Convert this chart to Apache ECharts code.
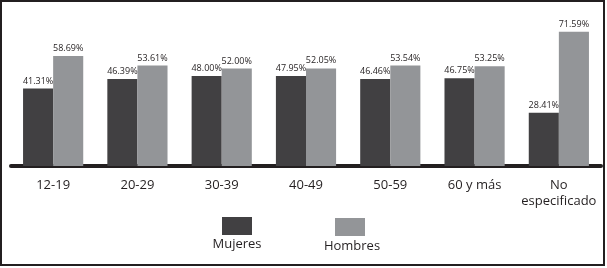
<!DOCTYPE html>
<html><head><meta charset="utf-8">
<script src="https://cdn.jsdelivr.net/npm/echarts@6/dist/echarts.min.js"></script>
<style>html,body{margin:0;padding:0;background:#fff}#c{width:607px;height:268px}</style>
</head><body><div id="c"></div>
<script>
const categories = ['12-19', '20-29', '30-39', '40-49', '50-59', '60 y más', 'No\nespecificado'];
const seriesNames = ['Mujeres', 'Hombres'];
const mujeres = [41.31, 46.39, 48.00, 47.95, 46.46, 46.75, 28.41];
const hombres = [58.69, 53.61, 52.00, 52.05, 53.54, 53.25, 71.59];
const colors = ['#414042', '#939598'];
const font = '"Open Sans", "DejaVu Sans", sans-serif';

const chart = echarts.init(document.getElementById('c'));
function mkSeries(name, data, color) {
  return {
    name: name, type: 'bar', data: data, barGap: '0%', barCategoryGap: '28.6%',
    itemStyle: { color: color },
    label: { show: true, position: 'top', distance: 3, fontSize: 9, fontFamily: font, color: '#231f20',
      formatter: p => p.value.toFixed(2) + '%' }
  };
}
chart.setOption({
  animation: false,
  grid: { left: 11, right: 6, top: 16, bottom: 102 },
  xAxis: { type: 'category', data: categories,
    axisLine: { lineStyle: { color: '#231f20', width: 4 } },
    axisTick: { show: false },
    axisLabel: { interval: 0, fontSize: 13, fontFamily: font, color: '#231f20', margin: 11, lineHeight: 16 } },
  yAxis: { type: 'value', min: 0, max: 80, show: false, splitLine: { show: false } },
  series: [mkSeries(seriesNames[0], mujeres, colors[0]), mkSeries(seriesNames[1], hombres, colors[1])],
  graphic: [
    { type: 'rect', shape: { x: 1, y: 1, width: 603, height: 264 }, style: { fill: 'none', stroke: '#231f20', lineWidth: 2 } },
    { type: 'rect', shape: { x: 222, y: 217, width: 30, height: 18 }, style: { fill: colors[0] } },
    { type: 'rect', shape: { x: 335, y: 218, width: 30, height: 18 }, style: { fill: colors[1] } },
    { type: 'text', x: 237, y: 244, style: { text: seriesNames[0], font: '13px ' + font, fill: '#231f20', textAlign: 'center', textVerticalAlign: 'middle' } },
    { type: 'text', x: 352, y: 246, style: { text: seriesNames[1], font: '13px ' + font, fill: '#231f20', textAlign: 'center', textVerticalAlign: 'middle' } }
  ]
});
</script></body></html>
